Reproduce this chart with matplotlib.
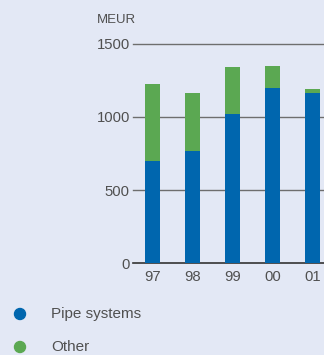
import matplotlib
matplotlib.use("Agg")
import matplotlib.pyplot as plt

years = ["97", "98", "99", "00", "01"]
pipe_systems = [698, 766, 1018, 1196, 1161]
other = [525, 395, 321, 150, 28]
y_ticks = [0, 500, 1000, 1500]

BLUE = "#0066AE"
GREEN = "#5BA852"
BG = "#E3E8F5"
TEXT = "#505050"

plt.rcParams["font.family"] = ["Liberation Sans", "DejaVu Sans"]

fig = plt.figure(figsize=(3.24, 3.55), dpi=100, facecolor=BG)
ax = fig.add_axes([0.4096, 0.2583, 0.5904, 0.6186], facecolor=BG)

x = list(range(len(years)))
for v in y_ticks:
    ax.axhline(v, color="#333333" if v == 0 else "#6e6e6e",
               lw=1.2 if v == 0 else 1.0, zorder=1, clip_on=False)

ax.bar(x, pipe_systems, width=0.375, color=BLUE, zorder=2)
ax.bar(x, other, width=0.375, bottom=pipe_systems, color=GREEN, zorder=2)

ax.set_xlim(-0.495, 4.29)
ax.set_ylim(0, 1500)
ax.set_yticks(y_ticks)
ax.set_yticklabels([str(v) for v in y_ticks], fontsize=10.7, color=TEXT)
ax.set_xticks(x)
ax.set_xticklabels(years, fontsize=10.7, color=TEXT)
ax.tick_params(axis="y", length=0, pad=2)
ax.tick_params(axis="x", length=0, pad=5)
for s in ax.spines.values():
    s.set_visible(False)

fig.text(97 / 324, 1 - 20 / 355, "MEUR", fontsize=9.5, color=TEXT,
         ha="left", va="center")

legend_items = [("Pipe systems", BLUE, 314), ("Other", GREEN, 347)]
for label, col, ypx in legend_items:
    fig.patches.append(matplotlib.patches.Ellipse(
        (20 / 324, 1 - ypx / 355), 11 / 324, 11 / 355,
        transform=fig.transFigure, color=col))
    fig.text(51 / 324, 1 - ypx / 355, label, fontsize=11, color=TEXT,
             ha="left", va="center")

fig.savefig("out.png", dpi=100, facecolor=BG)
